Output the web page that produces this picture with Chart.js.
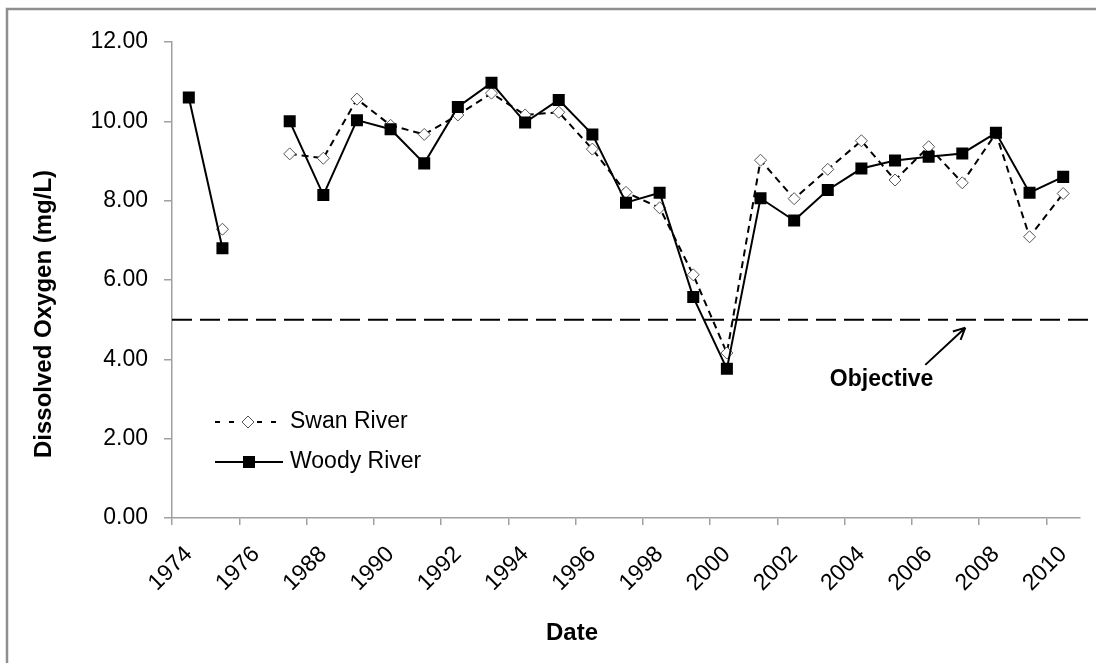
<!DOCTYPE html>
<html lang="en">
<head>
<meta charset="UTF-8">
<title>Dissolved Oxygen</title>
<script src="https://cdn.jsdelivr.net/npm/chart.js@4.4.0/dist/chart.umd.min.js"></script>
<style>
  html, body { margin: 0; padding: 0; background: #fff; }
  canvas { display: block; }
</style>
</head>
<body>
<canvas id="myChart" width="1096" height="663"></canvas>
<script>
// data
const years = ['1974', '1975', '1976', '1987', '1988', '1989', '1990', '1991', '1992', '1993',
  '1994', '1995', '1996', '1997', '1998', '1999', '2000', '2001', '2002', '2003',
  '2004', '2005', '2006', '2007', '2008', '2009', '2010'];
const swanRiver = [null, 7.28, null, 9.18, 9.07, 10.56, 9.90, 9.67, 10.16, 10.71,
  10.16, 10.23, 9.30, 8.21, 7.82, 6.13, 4.16, 9.02, 8.05, 8.79,
  9.51, 8.52, 9.36, 8.45, 9.70, 7.09, 8.18];
const woodyRiver = [10.60, 6.80, null, 10.00, 8.14, 10.03, 9.80, 8.94, 10.36, 10.97,
  9.97, 10.54, 9.67, 7.95, 8.20, 5.57, 3.76, 8.06, 7.50, 8.27,
  8.81, 9.01, 9.11, 9.19, 9.71, 8.20, 8.60];
const yTicks = [0, 2, 4, 6, 8, 10, 12];
const objective = 5.0;

const FONT = "'Liberation Sans', Arial, sans-serif";
const axisGray = '#a0a0a0';

const extras = {
  id: 'extras',
  beforeDatasetsDraw(chart) {
    const c = chart.ctx, a = chart.chartArea, y = chart.scales.y;
    // objective line
    c.save();
    c.strokeStyle = '#000';
    c.lineWidth = 2;
    c.setLineDash([20, 8]);
    c.beginPath();
    c.moveTo(a.left, y.getPixelForValue(objective));
    c.lineTo(chart.width, y.getPixelForValue(objective));
    c.stroke();
    c.restore();
  },
  afterDraw(chart) {
    const c = chart.ctx, a = chart.chartArea, x = chart.scales.x, y = chart.scales.y;
    c.save();
    // frame
    c.strokeStyle = '#8f8f8f';
    c.lineWidth = 2.5;
    c.strokeRect(7, 9, chart.width + 10, chart.height + 10);

    // axis titles
    c.fillStyle = '#000';
    c.font = "bold 24px " + FONT;
    c.textAlign = 'center';
    c.textBaseline = 'middle';
    c.fillText('Date', 572, 633);
    c.save();
    c.translate(44, 314);
    c.rotate(-Math.PI / 2);
    c.fillText('Dissolved Oxygen (mg/L)', 0, 0);
    c.restore();

    // objective label + arrow
    const tx = x.getPixelForValue(23) + 3, ty = y.getPixelForValue(objective) + 8;
    const fx = x.getPixelForValue(21.9), fy = y.getPixelForValue(3.86);
    c.strokeStyle = '#000';
    c.lineWidth = 2;
    c.beginPath();
    c.moveTo(fx, fy);
    c.lineTo(tx, ty);
    const ang = Math.atan2(ty - fy, tx - fx);
    for (const s of [-1, 1]) {
      c.moveTo(tx, ty);
      c.lineTo(tx - 13 * Math.cos(ang + s * 0.45), ty - 13 * Math.sin(ang + s * 0.45));
    }
    c.stroke();
    c.font = "bold 23px " + FONT;
    c.fillText('Objective', x.getPixelForValue(20.6), y.getPixelForValue(3.48));

    // legend
    const lx = a.left + 43, ly1 = 422, ly2 = 462;
    c.font = "23px " + FONT;
    c.textAlign = 'left';
    c.lineWidth = 2;
    c.setLineDash([5, 9]);
    c.beginPath();
    c.moveTo(lx, ly1); c.lineTo(lx + 62, ly1);
    c.stroke();
    c.setLineDash([]);
    c.beginPath();
    c.moveTo(lx + 33, ly1 - 6); c.lineTo(lx + 39, ly1); c.lineTo(lx + 33, ly1 + 6); c.lineTo(lx + 27, ly1); c.closePath();
    c.fillStyle = '#fff'; c.fill();
    c.strokeStyle = '#555'; c.lineWidth = 1; c.stroke();
    c.fillStyle = '#000';
    c.fillText('Swan River', lx + 75, ly1);

    c.strokeStyle = '#000'; c.lineWidth = 2;
    c.beginPath();
    c.moveTo(lx, ly2); c.lineTo(lx + 68, ly2);
    c.stroke();
    c.fillRect(lx + 34 - 6, ly2 - 6, 12, 12);
    c.fillText('Woody River', lx + 75, ly2);
    c.restore();
  }
};

const ctx = document.getElementById('myChart').getContext('2d');
const myChart = new Chart(ctx, {
  type: 'line',
  data: {
    labels: years,
    datasets: [{
      label: 'Swan River',
      data: swanRiver,
      order: 1,
      borderColor: '#000',
      borderWidth: 2,
      borderDash: [7, 5],
      pointStyle: 'rectRot',
      pointRadius: 6,
      pointBackgroundColor: '#fff',
      pointBorderColor: '#555',
      pointBorderWidth: 1,
      spanGaps: false,
      tension: 0
    }, {
      label: 'Woody River',
      data: woodyRiver,
      order: 0,
      borderColor: '#000',
      borderWidth: 2,
      pointStyle: 'rect',
      pointRadius: 8.5,
      pointBackgroundColor: '#000',
      pointBorderColor: '#000',
      pointBorderWidth: 0,
      spanGaps: false,
      tension: 0
    }]
  },
  options: {
    responsive: false,
    animation: false,
    devicePixelRatio: 1,
    layout: { padding: { top: 42, right: 16, left: 0, bottom: 0 } },
    plugins: { legend: { display: false }, tooltip: { enabled: false } },
    scales: {
      x: {
        type: 'category',
        offset: true,
        grid: {
          offset: true,
          drawOnChartArea: false,
          tickLength: 7,
          lineWidth: 1.5,
          color: (c) => (c.index !== undefined && c.index % 2 === 0) ? axisGray : 'rgba(0,0,0,0)'
        },
        border: { color: axisGray, width: 1.5 },
        ticks: {
          autoSkip: false,
          maxRotation: 45,
          minRotation: 45,
          padding: 16,
          color: '#000',
          font: { family: FONT, size: 23 },
          callback: (v, i) => i % 2 === 0 ? years[i] : ''
        },
        afterFit: (s) => { s.height = 145; s.paddingRight = 0; s.paddingLeft = 0; }
      },
      y: {
        min: 0,
        max: 12,
        afterBuildTicks: (s) => { s.ticks = yTicks.map(v => ({ value: v })); },
        grid: { drawOnChartArea: false, tickLength: 8, color: axisGray, lineWidth: 1.5 },
        border: { color: axisGray, width: 1.5 },
        ticks: {
          padding: 16,
          color: '#000',
          font: { family: FONT, size: 23 },
          callback: (v) => v.toFixed(2)
        },
        afterFit: (s) => { s.width = 172; }
      }
    }
  },
  plugins: [extras]
});
</script>
</body>
</html>
